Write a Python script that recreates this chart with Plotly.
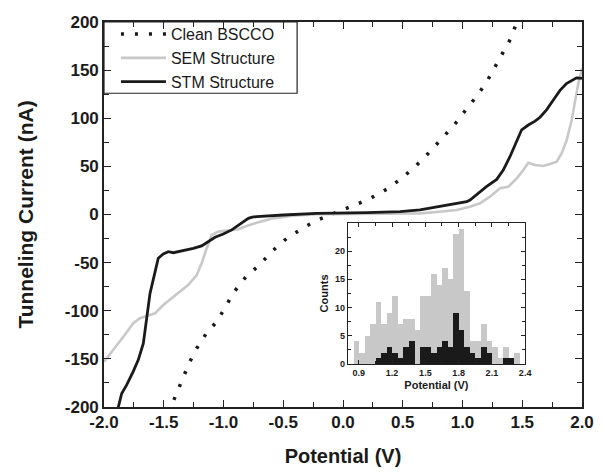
import plotly.graph_objects as go

# ---------------- data ----------------
clean_v = [-1.46, -1.44, -1.387, -1.336, -1.286, -1.224, -1.146, -1.052, -0.982, -0.912, -0.814,
           -0.70, -0.588, -0.471, -0.347, -0.232, -0.109, 0.011, 0.134, 0.254, 0.380, 0.497,
           0.617, 0.728, 0.840, 0.937, 1.027, 1.119, 1.202, 1.272, 1.333, 1.403, 1.448, 1.47]
clean_i = [-206, -200, -184.7, -169.5, -154, -139, -124, -110.6, -95, -80.5, -65,
           -52.5, -37.6, -24.8, -15, -6.8, -0.5, 5.4, 11.6, 18.5, 27.2, 38.3,
           51.4, 65.3, 80.2, 94, 108.6, 123, 137.7, 153, 168, 182.6, 197.6, 206]

sem_v = [-2.0, -1.922, -1.838, -1.755, -1.699, -1.643, -1.573, -1.504, -1.434, -1.364, -1.294,
         -1.224, -1.183, -1.141, -1.099, -1.043, -0.973, -0.876, -0.806, -0.722, -0.583, -0.443,
         -0.22, 0.2, 0.644, 0.81, 0.95, 1.063, 1.146, 1.23, 1.314, 1.383, 1.454, 1.509, 1.551,
         1.607, 1.676, 1.732, 1.788, 1.830, 1.872, 1.914, 1.941, 1.969, 1.997, 2.0]
sem_i = [-153, -140.8, -127, -113, -107.8, -105.5, -102.7, -94, -87, -81, -73,
         -62.9, -50.7, -35, -21.3, -17.8, -16.8, -15.4, -12, -8.5, -4, -1.6,
         0.2, 0.8, 1.2, 2.9, 4.7, 8.1, 11.6, 18.5, 27.2, 28.9, 37.6, 46.2, 53.8,
         51.4, 50.4, 52.5, 54.9, 63.6, 77.4, 98.2, 119, 136.3, 150, 152]

stm_v = [-1.89, -1.880, -1.852, -1.810, -1.755, -1.713, -1.671, -1.643, -1.615, -1.582, -1.546,
         -1.504, -1.462, -1.420, -1.336, -1.253, -1.183, -1.113, -1.071, -1.002, -0.931, -0.862,
         -0.792, -0.76, -0.722, -0.5, -0.22, 0.198, 0.477, 0.644, 0.81, 0.923, 1.035, 1.063, 1.146,
         1.2, 1.286, 1.341, 1.397, 1.454, 1.495, 1.551, 1.607, 1.649, 1.705, 1.76, 1.816,
         1.87, 1.927, 1.954, 1.983, 2.0]
stm_i = [-210, -200, -186, -177, -163, -151, -134, -110, -82, -64.6, -45.5,
         -41, -38.6, -39.7, -37.6, -35.2, -32.7, -27.5, -23.7, -20.3, -16, -9.9,
         -4, -2.8, -2.2, -0.5, 1.2, 1.9, 2.9, 4.7, 8.1, 10.9, 13.3, 15, 23.7,
         29, 36.5, 46.2, 60, 77.4, 88, 93, 97, 101, 109, 119, 129,
         136, 139.7, 142, 141.8, 141.5]

bin_centers = [0.875, 0.925, 0.975, 1.025, 1.075, 1.125, 1.175, 1.225, 1.275, 1.325,
               1.375, 1.425, 1.475, 1.525, 1.575, 1.625, 1.675, 1.725, 1.775, 1.825,
               1.875, 1.925, 1.975, 2.025, 2.075, 2.125, 2.175, 2.225, 2.275, 2.325]
sem_counts = [4, 2, 5, 7, 11, 7, 9, 12, 7, 8,
              8, 6, 12, 12, 16, 14, 17, 15, 23, 24,
              13, 4, 4, 7, 4, 3, 1, 3, 1, 2]
stm_counts = [0, 0, 0, 0, 1, 2, 3, 2, 1, 3,
              4, 0, 3, 3, 2, 3, 4, 3, 9, 6,
              3, 2, 1, 3, 2, 0, 0, 1, 1, 0]

x_ticks = [-2.0, -1.5, -1.0, -0.5, 0.0, 0.5, 1.0, 1.5, 2.0]
x_ticktext = ["-2.0", "-1.5", "-1.0", "-0.5", "0.0", "0.5", "1.0", "1.5", "2.0"]
y_ticks = [-200, -150, -100, -50, 0, 50, 100, 150, 200]
y_ticktext = ["-200", "-150", "-100", "-50", "0", "50", "100", "150", "200"]
inset_x_ticks = [0.9, 1.2, 1.5, 1.8, 2.1, 2.4]
inset_x_ticktext = ["0.9", "1.2", "1.5", "1.8", "2.1", "2.4"]
inset_y_ticks = [0, 5, 10, 15, 20]

# ---------------- figure ----------------
FONT = "Arial, 'Liberation Sans', sans-serif"
GRAY = "#c8c8c8"
BLACK = "#1a1a1a"

fig = go.Figure()
fig.add_trace(go.Scatter(x=clean_v, y=clean_i, mode="lines", name="Clean BSCCO",
                         line=dict(color=BLACK, width=3.5, dash="3px,11px")))
fig.add_trace(go.Scatter(x=sem_v, y=sem_i, mode="lines", name="SEM Structure",
                         line=dict(color=GRAY, width=2.6)))
fig.add_trace(go.Scatter(x=stm_v, y=stm_i, mode="lines", name="STM Structure",
                         line=dict(color=BLACK, width=2.8)))

fig.add_trace(go.Bar(x=bin_centers, y=sem_counts, width=0.05, marker=dict(color=GRAY, line=dict(width=0)),
                     xaxis="x2", yaxis="y2", showlegend=False))
fig.add_trace(go.Bar(x=bin_centers, y=stm_counts, width=0.05, marker=dict(color=BLACK, line=dict(width=0)),
                     xaxis="x2", yaxis="y2", showlegend=False))

axis_common = dict(showline=True, linecolor="#222", linewidth=1.6, mirror="allticks",
                   ticks="inside", tickcolor="#222", showgrid=False, zeroline=False,
                   automargin=False)

# page body has an 8px margin, so the figure is drawn 8px in from the window corner
fig.update_layout(
    width=596, height=464,
    margin=dict(l=96, r=22, t=14, b=65, autoexpand=False),
    paper_bgcolor="white", plot_bgcolor="white",
    barmode="overlay", bargap=0,
    font=dict(family=FONT, color="#1a1a1a"),
    xaxis=dict(range=[-2, 2], tickvals=x_ticks, ticktext=x_ticktext, ticklen=7, tickwidth=1.3,
               minor=dict(dtick=0.25, tick0=0, ticks="inside", ticklen=5, tickcolor="#222"),
               tickfont=dict(size=17, family=FONT, weight="bold"), ticklabelstandoff=-1,
               title=dict(text="<b>Potential (V)</b>", font=dict(size=20, family=FONT), standoff=18),
               **axis_common),
    yaxis=dict(range=[-200, 200], tickvals=y_ticks, ticktext=y_ticktext, ticklen=7, tickwidth=1.3,
               minor=dict(dtick=25, tick0=0, ticks="inside", ticklen=5, tickcolor="#222"),
               tickfont=dict(size=17, family=FONT, weight="bold"),
               title=dict(text="<b>Tunneling Current (nA)</b>", font=dict(size=21, family=FONT), standoff=25),
               **axis_common),
    xaxis2=dict(domain=[0.510, 0.881], anchor="y2", range=[0.8, 2.4],
                tickvals=inset_x_ticks, ticktext=inset_x_ticktext, ticklen=4, tickwidth=1,
                minor=dict(tick0=0.9, dtick=0.15, ticks="inside", ticklen=3, tickcolor="#222"),
                tickfont=dict(size=9, family=FONT, weight="bold"),
                title=dict(text="<b>Potential (V)</b>", font=dict(size=11, family=FONT), standoff=4),
                showline=True, linecolor="#222", linewidth=1, mirror="allticks",
                ticks="inside", tickcolor="#222", showgrid=False, zeroline=False),
    yaxis2=dict(domain=[0.112, 0.478], anchor="x2", range=[0, 25],
                tickvals=inset_y_ticks, ticklen=4, tickwidth=1,
                minor=dict(tick0=0, dtick=2.5, ticks="inside", ticklen=3, tickcolor="#222"),
                tickfont=dict(size=9, family=FONT, weight="bold"),
                title=dict(text="<b>Counts</b>", font=dict(size=11, family=FONT), standoff=4),
                showline=True, linecolor="#222", linewidth=1, mirror="allticks",
                ticks="inside", tickcolor="#222", showgrid=False, zeroline=False),
    legend=dict(x=0.025, y=1.0126, xanchor="left", yanchor="top", bgcolor="rgba(0,0,0,0)",
                borderwidth=0, font=dict(size=16, family=FONT),
                itemwidth=45, tracegroupgap=0),
    shapes=[dict(type="rect", xref="paper", yref="paper", x0=0, x1=0.404, y0=0.815, y1=1,
                 line=dict(color="#222", width=1.2), fillcolor="rgba(0,0,0,0)", layer="above")],
)

fig.write_html("out.html")
